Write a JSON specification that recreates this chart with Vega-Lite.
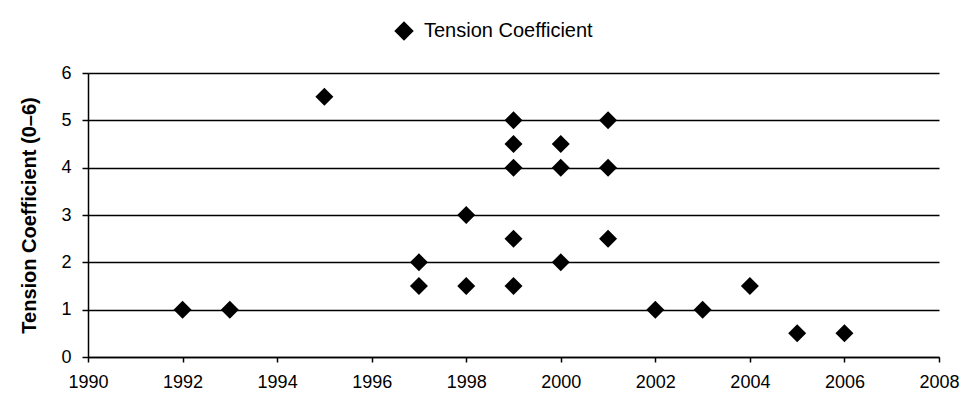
{
  "$schema": "https://vega.github.io/schema/vega-lite/v6.json",
  "autosize": {"type": "none"},
  "width": 851,
  "height": 284,
  "padding": {"left": 88, "top": 73, "right": 40, "bottom": 49},
  "background": "white",
  "config": {
    "font": "Liberation Sans",
    "view": {"stroke": null},
    "axis": {"labelFont": "Liberation Sans", "titleFont": "Liberation Sans"}
  },
  "data": {
    "values": [
      {"year": 1992, "tension": 1},
      {"year": 1993, "tension": 1},
      {"year": 1995, "tension": 5.5},
      {"year": 1997, "tension": 2},
      {"year": 1997, "tension": 1.5},
      {"year": 1998, "tension": 3},
      {"year": 1998, "tension": 1.5},
      {"year": 1999, "tension": 5},
      {"year": 1999, "tension": 4.5},
      {"year": 1999, "tension": 4},
      {"year": 1999, "tension": 2.5},
      {"year": 1999, "tension": 1.5},
      {"year": 2000, "tension": 4.5},
      {"year": 2000, "tension": 4},
      {"year": 2000, "tension": 2},
      {"year": 2001, "tension": 5},
      {"year": 2001, "tension": 4},
      {"year": 2001, "tension": 2.5},
      {"year": 2002, "tension": 1},
      {"year": 2003, "tension": 1},
      {"year": 2004, "tension": 1.5},
      {"year": 2005, "tension": 0.5},
      {"year": 2006, "tension": 0.5}
    ]
  },
  "mark": {"type": "point", "shape": "diamond", "filled": true, "size": 324, "opacity": 1},
  "encoding": {
    "x": {
      "field": "year",
      "type": "quantitative",
      "scale": {"domain": [1990, 2008], "nice": false, "zero": false},
      "axis": {
        "values": [1990, 1992, 1994, 1996, 1998, 2000, 2002, 2004, 2006, 2008],
        "format": "d",
        "title": null,
        "grid": false,
        "domainColor": "black",
        "domainWidth": 1.5,
        "tickColor": "black",
        "tickSize": 5,
        "tickWidth": 1.5,
        "labelFontSize": 18,
        "labelColor": "black",
        "labelPadding": 11,
        "labelFlush": false
      }
    },
    "y": {
      "field": "tension",
      "type": "quantitative",
      "scale": {"domain": [0, 6], "nice": false},
      "axis": {
        "values": [0, 1, 2, 3, 4, 5, 6],
        "title": "Tension Coefficient (0–6)",
        "titleFontSize": 20,
        "titleFontWeight": "bold",
        "titleColor": "black",
        "titlePadding": 21,
        "grid": true,
        "gridColor": "black",
        "gridWidth": 1.5,
        "gridOpacity": 1,
        "domainColor": "black",
        "domainWidth": 1.5,
        "tickColor": "black",
        "tickSize": 6,
        "tickWidth": 1.5,
        "labelFontSize": 18,
        "labelColor": "black",
        "labelPadding": 11
      }
    },
    "color": {
      "datum": "Tension Coefficient",
      "type": "nominal",
      "scale": {"range": ["black"]},
      "legend": {
        "title": null,
        "orient": "none",
        "legendX": 306,
        "legendY": -52,
        "symbolType": "diamond",
        "symbolSize": 300,
        "symbolFillColor": "black",
        "symbolStrokeColor": "black",
        "labelFontSize": 20,
        "labelOffset": 10,
        "labelLimit": 400,
        "labelColor": "black",
        "labelFont": "Liberation Sans"
      }
    }
  }
}
